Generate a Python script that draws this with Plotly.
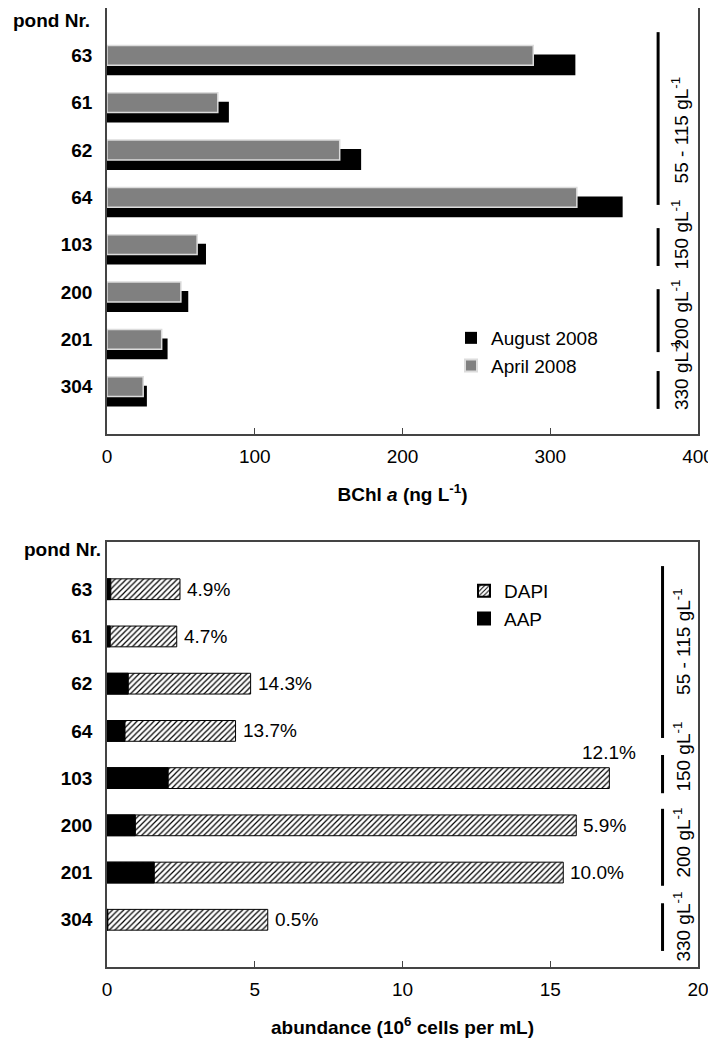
import plotly.graph_objects as go

# ---------------- data ----------------
ponds = ["63", "61", "62", "64", "103", "200", "201", "304"]
bchl_august = [317, 82.5, 172, 349, 67, 55, 41, 27]
bchl_april = [288.5, 75, 157.5, 318, 61, 50, 37, 24.5]
dapi = [2.47, 2.36, 4.86, 4.35, 17.0, 15.88, 15.44, 5.44]
aap = [0.13, 0.11, 0.72, 0.61, 2.07, 0.96, 1.6, 0.03]
aap_pct = ["4.9%", "4.7%", "14.3%", "13.7%", "12.1%", "5.9%", "10.0%", "0.5%"]
salinity_labels = ["55 - 115 gL<sup>-1</sup>", "150 gL<sup>-1</sup>",
                   "200 gL<sup>-1</sup>", "330 gL<sup>-1</sup>"]

# ---------------- layout constants ----------------
FONT = "Liberation Sans, Arial, sans-serif"
FS = 19
PAGE_W, PAGE_H = 716, 1041
BODY = 8                      # default page body margin of the html page
W, H = PAGE_W - BODY, PAGE_H - BODY
pos = list(range(len(ponds)))

top_lines = [(-0.49, 3.16), (3.65, 4.45), (4.94, 6.27), (6.67, 7.47)]
top_text_y = [1.58, 3.78, 5.47, 6.75]
bot_lines = [(-0.49, 3.15), (3.51, 4.32), (4.65, 6.28), (6.65, 7.66)]
bot_text_y = [1.10, 3.55, 5.37, 7.15]


def px_x(p):
    """screen x pixel -> paper coordinate"""
    return (p - BODY) / W


def px_y(p):
    """screen y pixel -> paper coordinate"""
    return 1 - (p - BODY) / H


fig = go.Figure()

# top panel
fig.add_trace(go.Bar(
    y=pos, x=bchl_august, orientation="h", name="August 2008",
    width=0.44, offset=-0.02,
    marker=dict(color="black", line=dict(color="black", width=0)),
    xaxis="x", yaxis="y", legend="legend"))
fig.add_trace(go.Bar(
    y=pos, x=bchl_april, orientation="h", name="April 2008",
    width=0.42, offset=-0.21,
    marker=dict(color="#808080", line=dict(color="#dcdcdc", width=1.5)),
    xaxis="x", yaxis="y", legend="legend"))

# bottom panel
fig.add_trace(go.Bar(
    y=pos, x=dapi, orientation="h", name="DAPI",
    width=0.44, offset=-0.22,
    marker=dict(color="white", line=dict(color="black", width=1),
                pattern=dict(shape="/", fgcolor="black", bgcolor="white",
                             size=4, solidity=0.3)),
    xaxis="x2", yaxis="y2", legend="legend2"))
fig.add_trace(go.Bar(
    y=pos, x=aap, orientation="h", name="AAP",
    width=0.44, offset=-0.22,
    marker=dict(color="black", line=dict(color="black", width=1)),
    xaxis="x2", yaxis="y2", legend="legend2"))

axis_common = dict(showline=True, linecolor="#444", linewidth=1.5, mirror=True,
                   showgrid=False, zeroline=False, automargin=False)

xdom = [px_x(107), px_x(698)]
fig.update_layout(
    template="none",
    width=W, height=H,
    margin=dict(l=0, r=0, t=0, b=0, autoexpand=False),
    paper_bgcolor="white", plot_bgcolor="white",
    font=dict(family=FONT, size=FS, color="black"),
    barmode="overlay",
    xaxis=dict(domain=xdom, anchor="y", range=[0, 400],
               tickvals=[0, 100, 200, 300, 400], ticks="inside", ticklen=6,
               tickcolor="#444", tickfont=dict(size=FS), ticklabelstandoff=4,
               title=dict(text="<b>BChl <i>a</i> (ng L<sup>-1</sup>)</b>",
                          font=dict(size=FS), standoff=22),
               **axis_common),
    yaxis=dict(domain=[px_y(434), px_y(8)], anchor="x", range=[8, -1],
               tickvals=pos, ticktext=ponds, ticks="",
               tickfont=dict(size=FS, weight="bold"), ticklabelstandoff=9,
               **axis_common),
    xaxis2=dict(domain=xdom, anchor="y2", range=[0, 20],
                tickvals=[0, 5, 10, 15, 20], ticks="inside", ticklen=6,
                tickcolor="#444", tickfont=dict(size=FS), ticklabelstandoff=4,
                title=dict(text="<b>abundance (10<sup>6</sup> cells per mL)</b>",
                           font=dict(size=FS), standoff=22),
                **axis_common),
    yaxis2=dict(domain=[px_y(967), px_y(542)], anchor="x2", range=[8, -1],
                tickvals=pos, ticktext=ponds, ticks="",
                tickfont=dict(size=FS, weight="bold"), ticklabelstandoff=9,
                **axis_common),
    legend=dict(x=px_x(451), y=px_y(319), xanchor="left", yanchor="top",
                bgcolor="rgba(0,0,0,0)", font=dict(size=FS),
                traceorder="normal", itemsizing="constant"),
    legend2=dict(x=px_x(464), y=px_y(572), xanchor="left", yanchor="top",
                 bgcolor="rgba(0,0,0,0)", font=dict(size=FS),
                 traceorder="normal", itemsizing="constant"),
    showlegend=True,
)

shapes = []
annotations = []

# "pond Nr." headers
annotations.append(dict(text="<b>pond Nr.</b>", xref="paper", yref="paper",
                        x=px_x(92), y=px_y(8), xanchor="right", yanchor="top",
                        showarrow=False, font=dict(size=FS)))
annotations.append(dict(text="<b>pond Nr.</b>", xref="paper", yref="paper",
                        x=px_x(103), y=px_y(549), xanchor="right", yanchor="middle",
                        showarrow=False, font=dict(size=FS)))

# salinity group markers
for (y0, y1), ty, lab in zip(top_lines, top_text_y, salinity_labels):
    shapes.append(dict(type="line", xref="x", yref="y", x0=373, x1=373,
                       y0=y0, y1=y1, line=dict(color="black", width=3)))
    annotations.append(dict(text=lab, xref="x", yref="y", x=388, y=ty,
                            textangle=-90, showarrow=False,
                            xanchor="center", yanchor="middle",
                            font=dict(size=FS)))
for (y0, y1), ty, lab in zip(bot_lines, bot_text_y, salinity_labels):
    shapes.append(dict(type="line", xref="x2", yref="y2", x0=18.8, x1=18.8,
                       y0=y0, y1=y1, line=dict(color="black", width=3)))
    annotations.append(dict(text=lab, xref="x2", yref="y2", x=19.45, y=ty,
                            textangle=-90, showarrow=False,
                            xanchor="center", yanchor="middle",
                            font=dict(size=FS)))

# percentage labels
for i, (v, t) in enumerate(zip(dapi, aap_pct)):
    if ponds[i] == "103":
        annotations.append(dict(text=t, xref="x2", yref="y2", x=v, y=i,
                                xanchor="center", yanchor="middle", yshift=26,
                                showarrow=False, font=dict(size=FS)))
    else:
        annotations.append(dict(text=t, xref="x2", yref="y2", x=v, y=i,
                                xanchor="left", yanchor="middle", xshift=5,
                                showarrow=False, font=dict(size=FS)))

fig.update_layout(shapes=shapes, annotations=annotations)

fig.write_html("out.html")
